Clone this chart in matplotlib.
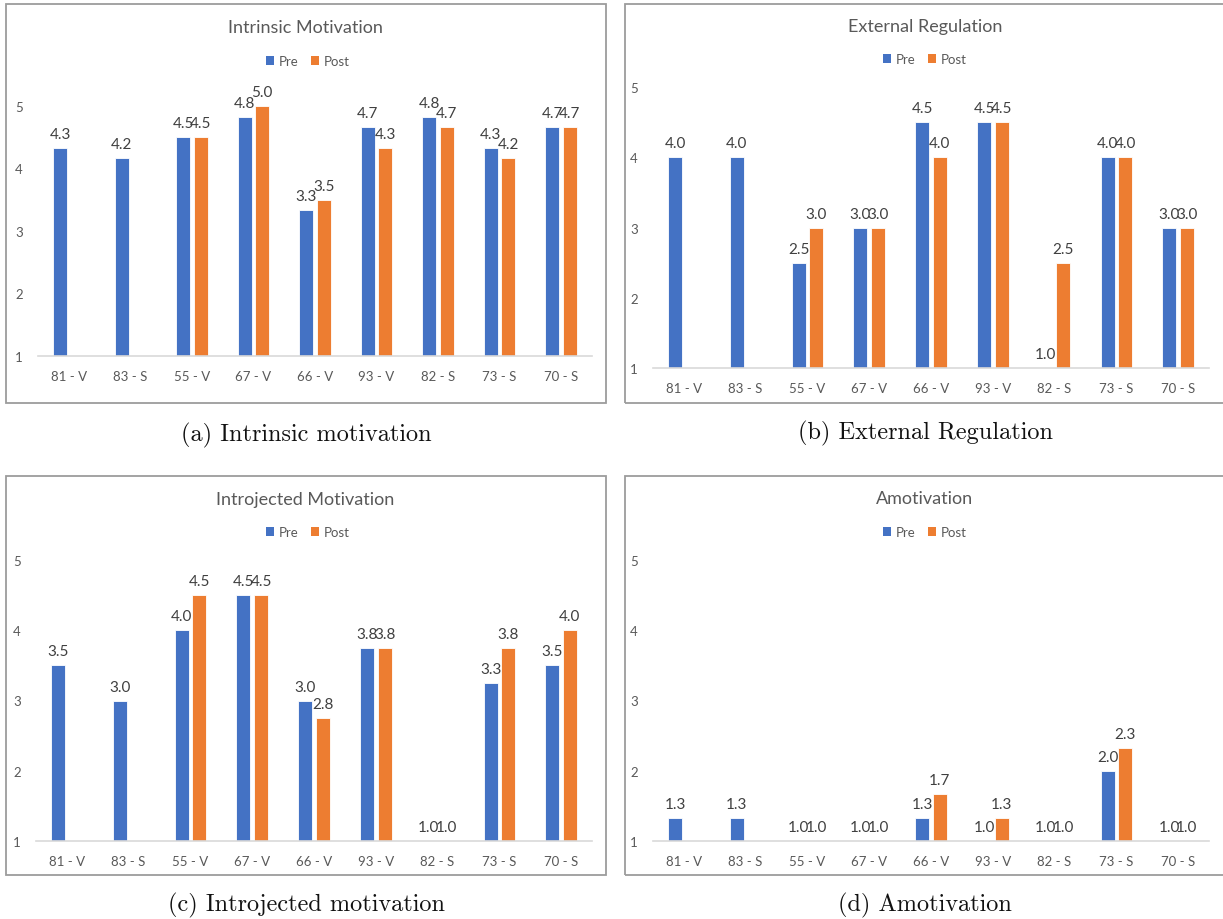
import math
import numpy as np
import matplotlib
matplotlib.use("Agg")
import matplotlib.pyplot as plt
from matplotlib.patches import Rectangle, Patch

# ---------------- data ----------------
categories = ['81 - V', '83 - S', '55 - V', '67 - V', '66 - V',
              '93 - V', '82 - S', '73 - S', '70 - S']
series_names = ['Pre', 'Post']

intrinsic_pre = [4.33, 4.17, 4.5, 4.83, 3.33, 4.67, 4.83, 4.33, 4.67]
intrinsic_post = [np.nan, np.nan, 4.5, 5.0, 3.5, 4.33, 4.67, 4.17, 4.67]

external_pre = [4.0, 4.0, 2.5, 3.0, 4.5, 4.5, 1.0, 4.0, 3.0]
external_post = [np.nan, np.nan, 3.0, 3.0, 4.0, 4.5, 2.5, 4.0, 3.0]

introjected_pre = [3.5, 3.0, 4.0, 4.5, 3.0, 3.75, 1.0, 3.25, 3.5]
introjected_post = [np.nan, np.nan, 4.5, 4.5, 2.75, 3.75, 1.0, 3.75, 4.0]

amotivation_pre = [1.33, 1.33, 1.0, 1.0, 1.33, 1.0, 1.0, 2.0, 1.0]
amotivation_post = [np.nan, np.nan, 1.0, 1.0, 1.67, 1.33, 1.0, 2.33, 1.0]

chart_titles = ['Intrinsic Motivation', 'External Regulation',
                'Introjected Motivation', 'Amotivation']
captions = ['(a) Intrinsic motivation', '(b) External Regulation',
            '(c) Introjected motivation', '(d) Amotivation']
y_ticks = [1, 2, 3, 4, 5]

# ---------------- style ----------------
W, H = 1223, 920
BLUE = '#4472C4'
ORANGE = '#ED7D31'
TXT = '#595959'
SANS = ['Lato', 'DejaVu Sans']
SERIF = ['cmr10', 'DejaVu Serif']

fig = plt.figure(figsize=(W / 100, H / 100), dpi=100)


def fx(px):
    return px / W


def fy(py):
    return 1 - py / H


def fmt(v):
    return f"{math.floor(v * 10 + 0.5) / 10:.1f}"


# layout per panel (pixels, origin top-left)
panels = [
    dict(box=(6, 5, 606, 404), ax=(38, 592, 107, 357), title=28, legend=62,
         cap=435, cx=306, pre=intrinsic_pre, post=intrinsic_post),
    dict(box=(625, 5, 1240, 404), ax=(653, 1209, 88, 369), title=27, legend=60,
         cap=433, cx=925, pre=external_pre, post=external_post),
    dict(box=(6, 477, 606, 876), ax=(36, 592, 561, 842), title=500, legend=533,
         cap=905, cx=306, pre=introjected_pre, post=introjected_post),
    dict(box=(625, 477, 1240, 876), ax=(653, 1209, 561, 842), title=499, legend=533,
         cap=905, cx=925, pre=amotivation_pre, post=amotivation_post),
]

bw = 0.228
off = 0.142
x = np.arange(len(categories))

for i, p in enumerate(panels):
    bx0, by0, bx1, by1 = p['box']
    fig.patches.append(Rectangle((fx(bx0), fy(by1)), fx(bx1 - bx0), (by1 - by0) / H,
                                 transform=fig.transFigure, fill=False,
                                 edgecolor='#9c9c9c', linewidth=1.3, zorder=0))
    ax0, ax1, y5, y1 = p['ax']
    ax = fig.add_axes([fx(ax0), fy(y1), fx(ax1 - ax0), (y1 - y5) / H])
    pre = np.array(p['pre'], dtype=float)
    post = np.array(p['post'], dtype=float)
    base = 1.0
    ax.bar(x - off, pre - base, bw, bottom=base, color=BLUE,
           edgecolor='white', linewidth=0.6, zorder=2)
    ax.bar(x + off, post - base, bw, bottom=base, color=ORANGE,
           edgecolor='white', linewidth=0.6, zorder=2)
    for xs, vals in ((x - off, pre), (x + off, post)):
        for xi, v in zip(xs, vals):
            if np.isnan(v):
                continue
            ax.annotate(fmt(v), (xi, v), xytext=(0, 5), textcoords='offset points',
                        ha='center', va='bottom', fontsize=11, color='#404040',
                        family=SANS, annotation_clip=False)
    ax.set_xlim(-0.5, len(categories) - 0.5)
    ax.set_ylim(1, 5)
    ax.set_xticks(x)
    ax.set_xticklabels(categories, family=SANS, fontsize=9.5, color=TXT)
    ax.set_yticks(y_ticks)
    ax.set_yticklabels([str(t) for t in y_ticks], family=SANS, fontsize=9.5, color=TXT)
    ax.tick_params(axis='both', length=0)
    ax.tick_params(axis='x', pad=10)
    ax.tick_params(axis='y', pad=11)
    for s in ('top', 'right', 'left'):
        ax.spines[s].set_visible(False)
    ax.spines['bottom'].set_color('#d9d9d9')
    ax.spines['bottom'].set_linewidth(1.2)
    ax.patch.set_alpha(0)

    fig.text(fx(305.5 if i % 2 == 0 else 925), fy(p['title']), chart_titles[i],
             ha='center', va='center', fontsize=13, color=TXT, family=SANS)
    handles = [Patch(facecolor=BLUE), Patch(facecolor=ORANGE)]
    fig.legend(handles, series_names, loc='center',
               bbox_to_anchor=(fx(308 if i % 2 == 0 else 925), fy(p['legend'])),
               ncol=2, frameon=False, handlelength=0.6,
               handleheight=0.6, handletextpad=0.35, columnspacing=1.0,
               borderpad=0, prop={'family': SANS, 'size': 9.5}, labelcolor=TXT)
    fig.text(fx(p['cx']), fy(p['cap']), captions[i], ha='center', va='center',
             fontsize=17.5, color='#111111', family=SERIF)

fig.savefig('out.png', dpi=100, facecolor='white')
